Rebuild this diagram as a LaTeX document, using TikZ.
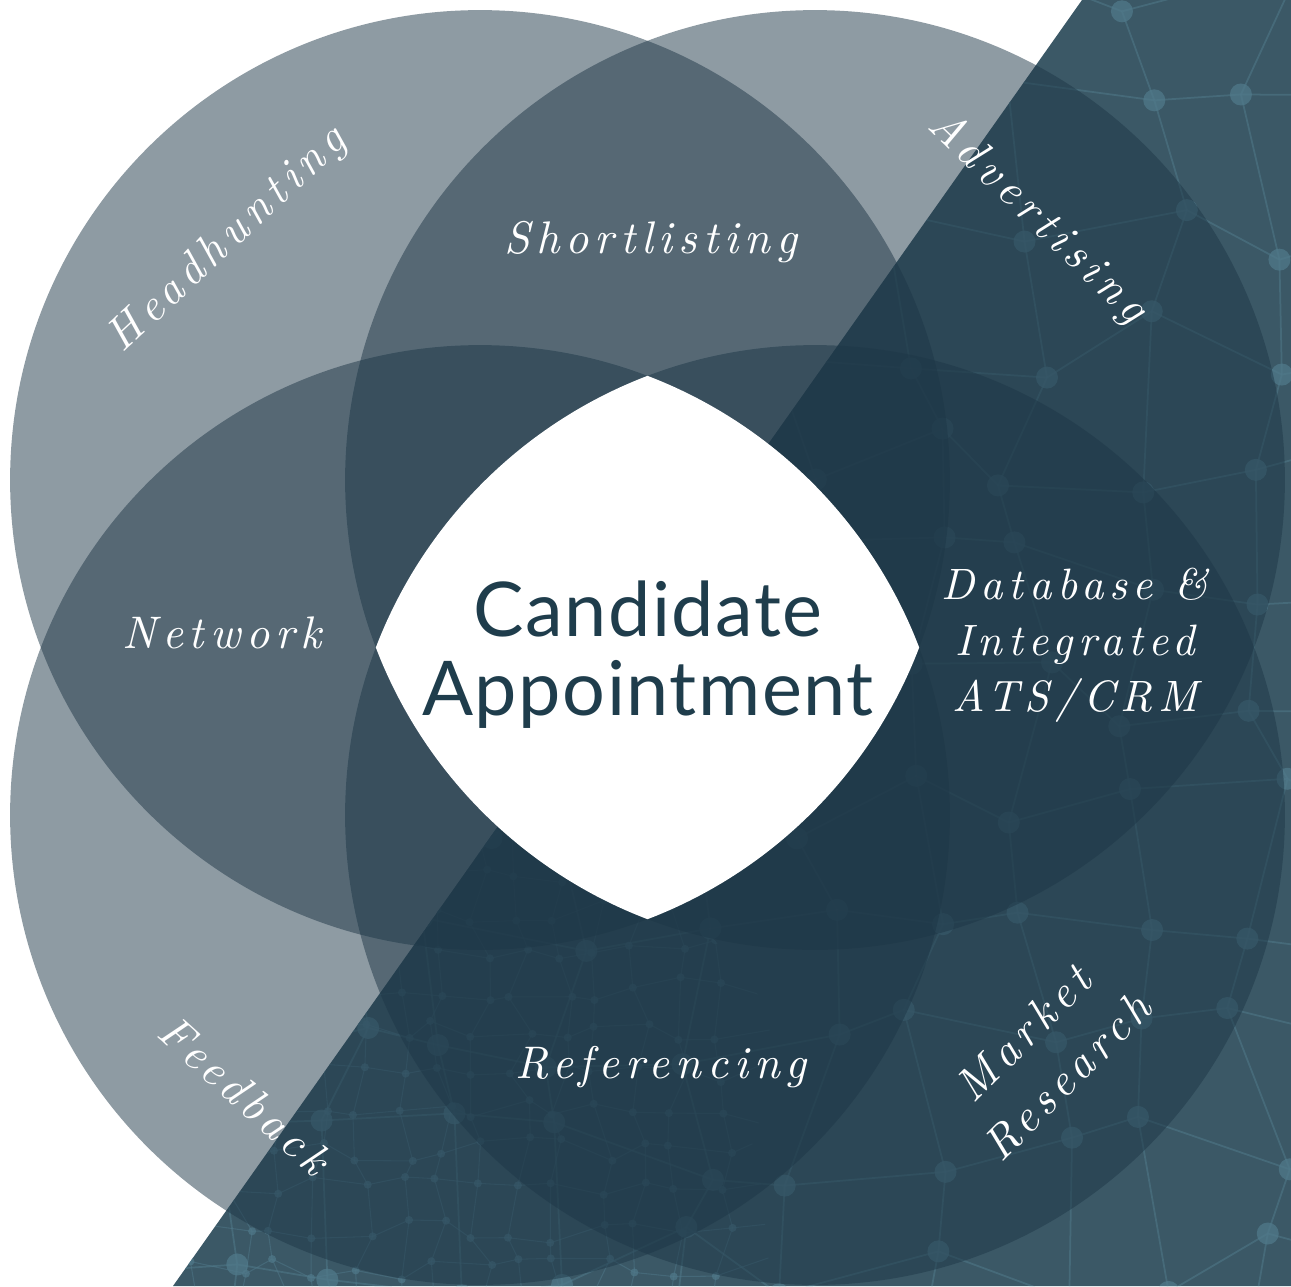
\documentclass[tikz,border=0pt]{standalone}
\usepackage{fontspec}
\newfontfamily\sansfont{Lato}[LetterSpace=2]
\newfontfamily\tagfont{lmroman10-italic.otf}[LetterSpace=13]
\definecolor{slate}{HTML}{1E3747}
\definecolor{deep}{HTML}{3B5866}
\definecolor{net}{HTML}{50798A}
\definecolor{ink}{HTML}{1F3D4C}
\tikzset{tag/.style={text=white,inner sep=0,align=center,
    font=\tagfont\fontsize{26}{32}\selectfont}}
\begin{document}
\begin{tikzpicture}[x=0.02cm,y=-0.02cm]
	\useasboundingbox (0,0) rectangle (1291,1286);
	% dark corner with the network
	\fill[deep] (1082,0)--(1291,0)--(1291,1286)--(173,1286)--cycle;
	\begin{scope}
		\clip (1082,0)--(1291,0)--(1291,1286)--(173,1286)--cycle;
		\pgfmathsetseed{11}
		\foreach \i in {0,...,12}
			\foreach \j in {0,...,12}{
				\pgfmathsetmacro\px{\i*115+rand*38}
				\pgfmathsetmacro\py{\j*115+rand*38}
				\coordinate (c-\i-\j) at (\px,\py);
			}
		\foreach \i in {0,...,11}
			\foreach \j in {0,...,11}{
				\pgfmathtruncatemacro\ii{\i+1}
				\pgfmathtruncatemacro\jj{\j+1}
				\draw[net,opacity=0.55,line width=1pt] (c-\i-\j)--(c-\ii-\j) (c-\i-\j)--(c-\i-\jj);
				\fill[net,opacity=0.75] (c-\i-\j) circle (0.22cm);
			}
		\begin{scope}
			\clip (330,1290) circle (10.4cm);
			\foreach \i in {0,...,16}
				\foreach \j in {0,...,13}{
					\pgfmathsetmacro\px{120+\i*40+rand*13}
					\pgfmathsetmacro\py{790+\j*40+rand*13}
					\coordinate (f-\i-\j) at (\px,\py);
				}
			\foreach \i in {0,...,15}
				\foreach \j in {0,...,12}{
					\pgfmathtruncatemacro\ii{\i+1}
					\pgfmathtruncatemacro\jj{\j+1}
					\draw[net,opacity=0.5,line width=0.6pt] (f-\i-\j)--(f-\ii-\j) (f-\i-\j)--(f-\i-\jj);
					\fill[net,opacity=0.7] (f-\i-\j) circle (0.08cm);
				}
		\end{scope}
	\end{scope}
	% four circles
	\foreach \x/\y in {480/480,815/480,480/815,815/815}
		\fill[slate,fill opacity=0.5] (\x,\y) circle (9.4cm);
	\begin{scope}
		\clip (480,480) circle (9.4cm);
		\clip (815,480) circle (9.4cm);
		\clip (480,815) circle (9.4cm);
		\fill[white] (815,815) circle (9.4cm);
	\end{scope}
	\node (CA) at (648,655) [text=ink,inner sep=0,align=center,
		font=\sansfont\fontsize{43}{45}\selectfont] {Candidate\\Appointment};
	\node (HH) at (228,240) [tag,rotate=43] {Headhunting};
	\node (SL) at (651,242) [tag] {Shortlisting};
	\node (AD) at (1037,218) [tag,rotate=-44] {Advertising};
	\node (NW) at (222,633) [tag] {Network};
	\node (DB) at (1075,645) [tag,font=\tagfont\fontsize{25}{32}\selectfont] {Database \&\\Integrated\\ATS/CRM};
	\node (FB) at (245,1095) [tag,rotate=-42] {Feedback};
	\node (RF) at (661,1067) [tag] {Referencing};
	\node (MR) at (1045,1055) [tag,rotate=45,font=\tagfont\fontsize{26}{35}\selectfont] {Market\\Research};
\end{tikzpicture}
\end{document}
